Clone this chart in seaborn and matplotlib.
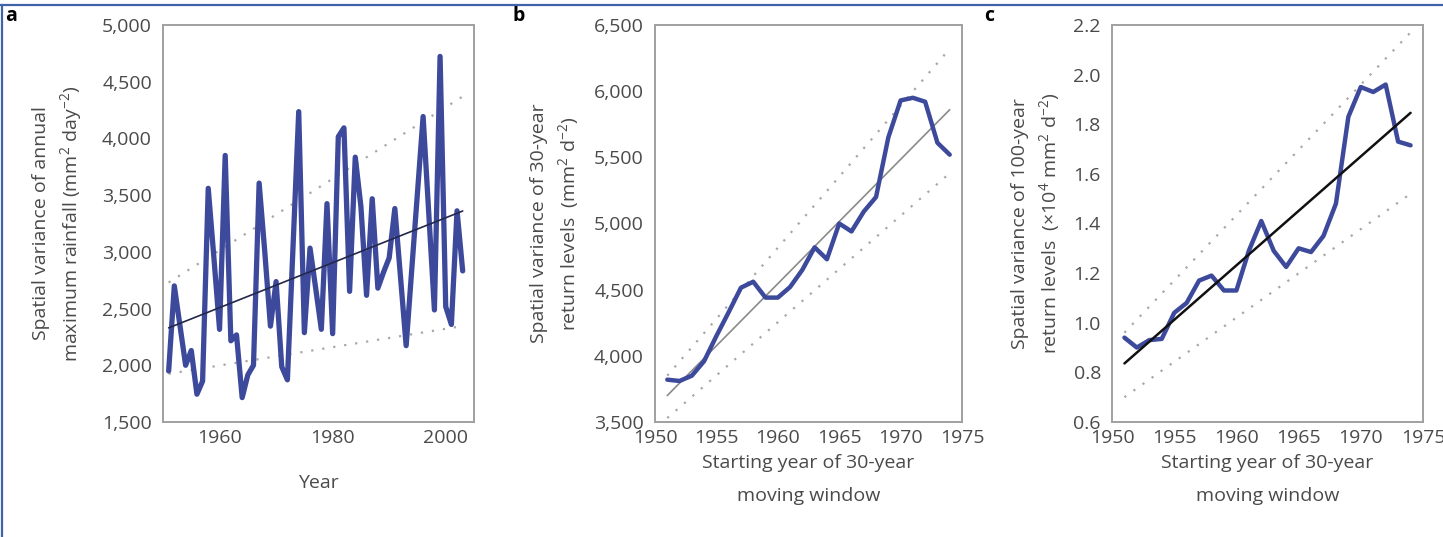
import matplotlib
matplotlib.use("Agg")
import matplotlib.pyplot as plt
import matplotlib.ticker as mticker
from matplotlib.lines import Line2D
import seaborn as sns

# ---------------- data ----------------
a_years = list(range(1951, 2004))
a_values = [1950, 2700, 2350, 2000, 2130, 1745, 1860, 3560, 2950, 2317,
            3850, 2216, 2268, 1715, 1915, 2000, 3606, 3000, 2345, 2738,
            1987, 1872, 3050, 4236, 2288, 3033, 2680, 2317, 3425, 2279,
            4015, 4093, 2652, 3835, 3400, 2617, 3468, 2680, 2820, 2947,
            3382, 2780, 2173, 2850, 3520, 4193, 3340, 2488, 4723, 2517,
            2360, 3362, 2832]
a_trend_x = [1951, 2003]
a_trend_y = [2330, 3360]
a_upper_x = [1951, 2003]
a_upper_y = [2730, 4370]
a_lower_x = [1951, 2002]
a_lower_y = [1925, 2338]

bc_years = list(range(1951, 1975))
b_values = [3820, 3810, 3850, 3960, 4150, 4330, 4515, 4560, 4440, 4440,
            4520, 4650, 4820, 4730, 5000, 4940, 5090, 5200, 5650, 5930,
            5950, 5920, 5610, 5520]
b_trend_x = [1951, 1974]
b_trend_y = [3700, 5860]
b_upper_x = [1951, 1974]
b_upper_y = [3850, 6320]
b_lower_x = [1951, 1974]
b_lower_y = [3530, 5380]

c_values = [0.94, 0.90, 0.93, 0.935, 1.04, 1.08, 1.17, 1.19, 1.13, 1.13,
            1.29, 1.41, 1.29, 1.225, 1.30, 1.285, 1.35, 1.48, 1.83, 1.95,
            1.93, 1.96, 1.73, 1.715]
c_trend_x = [1951, 1974]
c_trend_y = [0.836, 1.846]
c_upper_x = [1951, 1974]
c_upper_y = [0.96, 2.17]
c_lower_x = [1951, 1974]
c_lower_y = [0.70, 1.52]

a_yticks = [1500, 2000, 2500, 3000, 3500, 4000, 4500, 5000]
a_xticks = [1960, 1980, 2000]
b_yticks = [3500, 4000, 4500, 5000, 5500, 6000, 6500]
bc_xticks = [1950, 1955, 1960, 1965, 1970, 1975]
c_yticks = [0.6, 0.8, 1.0, 1.2, 1.4, 1.6, 1.8, 2.0, 2.2]

a_xlabel = 'Year'
a_ylabel = 'Spatial variance of annual\nmaximum rainfall (mm$^2$ day$^{-2}$)'
bc_xlabel = 'Starting year of 30-year\nmoving window'
b_ylabel = 'Spatial variance of 30-year\nreturn levels  (mm$^2$ d$^{-2}$)'
c_ylabel = 'Spatial variance of 100-year\nreturn levels  (\u00d710$^4$ mm$^2$ d$^{-2}$)'

# ---------------- style ----------------
sns.set_style("white")
plt.rcParams['font.family'] = ['Open Sans', 'DejaVu Sans']
plt.rcParams['mathtext.fontset'] = 'custom'
plt.rcParams['mathtext.rm'] = 'Open Sans'
plt.rcParams['mathtext.it'] = 'Open Sans'
plt.rcParams['mathtext.default'] = 'rm'

TXT = '#4a4a4a'
SPINE = '#a0a0a0'
LINE = '#3d4a9c'
DOT = '#a8a8a8'
FS = 14

fig = plt.figure(figsize=(14.43, 5.37), dpi=100)
W, H = 1443, 537


def add_ax(left, right, top, bottom):
    return fig.add_axes([left / W, 1 - bottom / H, (right - left) / W, (bottom - top) / H])


axa = add_ax(163, 474, 25, 422)
axb = add_ax(655, 962, 25, 422)
axc = add_ax(1112, 1423, 25, 422)

dot_style = dict(linestyle=(0, (1, 4)), linewidth=1.6, color=DOT)

# panel a
sns.lineplot(x=a_upper_x, y=a_upper_y, ax=axa, **dot_style)
sns.lineplot(x=a_lower_x, y=a_lower_y, ax=axa, **dot_style)
sns.lineplot(x=a_years, y=a_values, ax=axa, color=LINE, linewidth=3.8)
sns.lineplot(x=a_trend_x, y=a_trend_y, ax=axa, color='#23284a', linewidth=1.2)
axa.set_xlim(1950, 2005)
axa.set_ylim(1500, 5000)
axa.set_xticks(a_xticks)
axa.set_yticks(a_yticks)

# panel b
sns.lineplot(x=b_upper_x, y=b_upper_y, ax=axb, **dot_style)
sns.lineplot(x=b_lower_x, y=b_lower_y, ax=axb, **dot_style)
sns.lineplot(x=b_trend_x, y=b_trend_y, ax=axb, color='#8a8a8a', linewidth=1.2)
sns.lineplot(x=bc_years, y=b_values, ax=axb, color=LINE, linewidth=3.2)
axb.set_xlim(1950, 1975)
axb.set_ylim(3500, 6500)
axb.set_xticks(bc_xticks)
axb.set_yticks(b_yticks)

# panel c
sns.lineplot(x=c_upper_x, y=c_upper_y, ax=axc, **dot_style)
sns.lineplot(x=c_lower_x, y=c_lower_y, ax=axc, **dot_style)
sns.lineplot(x=bc_years, y=c_values, ax=axc, color=LINE, linewidth=3.2)
sns.lineplot(x=c_trend_x, y=c_trend_y, ax=axc, color='#111111', linewidth=1.8)
axc.set_xlim(1950, 1975)
axc.set_ylim(0.6, 2.2)
axc.set_xticks(bc_xticks)
axc.set_yticks(c_yticks)
axc.yaxis.set_major_formatter(mticker.FormatStrFormatter('%.1f'))

for ax in (axa, axb):
    ax.yaxis.set_major_formatter(mticker.FuncFormatter(lambda v, p: f'{int(round(v)):,}'))

# axis labels at measured positions
label_specs = [
    (axa, a_xlabel, a_ylabel, 163, 311, 84, 474),
    (axb, bc_xlabel, b_ylabel, 655, 307, 581, 454),
    (axc, bc_xlabel, c_ylabel, 1112, 311, 1062, 454),
]
for ax, xl, yl, left, width, yl_right, xl_top in label_specs:
    ax.set_xlabel(xl, fontsize=FS, color=TXT, linespacing=2.05)
    ax.set_ylabel(yl, fontsize=FS, color=TXT, linespacing=1.45)
    ax.yaxis.set_label_coords((yl_right - left) / width, 0.5)
    ax.xaxis.set_label_coords(0.5, (422 - xl_top) / 397)

for ax in (axa, axb, axc):
    for s in ax.spines.values():
        s.set_color(SPINE)
        s.set_linewidth(1.4)
    ax.tick_params(axis='both', labelsize=FS, labelcolor=TXT, color=SPINE)
    ax.tick_params(axis='x', direction='in', length=4, width=1, pad=5)
    ax.tick_params(axis='y', direction='out', length=3, width=1, pad=5)
    ax.set_facecolor('white')

# panel letters
for x, lab in ((5, 'a'), (513, 'b'), (984, 'c')):
    fig.text(x / W, 1 - 16 / H, lab, fontsize=14, fontweight='bold', color='black',
             ha='left', va='center')

# frame border (top and left)
fig.add_artist(Line2D([0, 1], [1 - 4.5 / H, 1 - 4.5 / H], transform=fig.transFigure,
                      color='#4062a6', linewidth=1.6))
fig.add_artist(Line2D([2 / W, 2 / W], [0, 1 - 4.5 / H], transform=fig.transFigure,
                      color='#4062a6', linewidth=1.6))

fig.savefig('out.png', dpi=100, facecolor='white')
